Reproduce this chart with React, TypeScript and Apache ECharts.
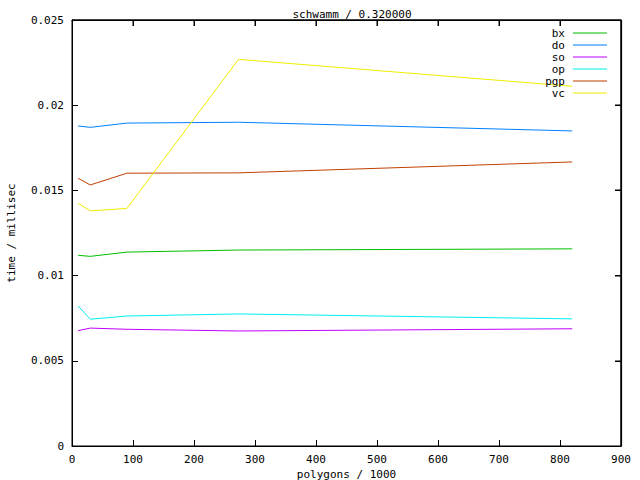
import React, { useEffect, useRef } from "react";
import * as echarts from "echarts";

const polygons = [10, 30, 90, 273, 820];
const seriesNames = ["bx", "do", "so", "op", "pgp", "vc"];
const bx = [0.01119, 0.01113, 0.01138, 0.0115, 0.01157];
const doV = [0.01878, 0.0187, 0.01895, 0.019, 0.01849];
const so = [0.00677, 0.00692, 0.00685, 0.00675, 0.00688];
const op = [0.00822, 0.00744, 0.00763, 0.00775, 0.00746];
const pgp = [0.01571, 0.01532, 0.01601, 0.01603, 0.01667];
const vc = [0.01424, 0.0138, 0.01394, 0.02269, 0.02111];
const colors = ["#00c000", "#0080ff", "#c000ff", "#00eeee", "#c04000", "#eeee00"];
const xTicks = { min: 0, max: 900, interval: 100 };
const yTicks = { min: 0, max: 0.025, interval: 0.005 };

const FONT = "DejaVu Sans Mono";
const TICK = 6;

export default function App() {
  const ref = useRef<HTMLDivElement>(null);
  useEffect(() => {
    if (!ref.current) return;
    const chart = echarts.init(ref.current, undefined, { renderer: "svg" });
    const values = [bx, doV, so, op, pgp, vc];
    const axisLine = { show: true, onZero: false, lineStyle: { color: "#000", width: 1 } };
    const axisTick = { show: true, inside: true, length: TICK, lineStyle: { color: "#000", width: 1 } };
    const lineSeries = seriesNames.map((name, i) => ({
      name,
      type: "line",
      xAxisIndex: 0,
      yAxisIndex: 0,
      symbol: "none",
      color: colors[i],
      lineStyle: { width: 1, color: colors[i] },
      data: polygons.map((x, j) => [x, values[i][j]]),
    }));
    const mirrorLine = { show: true, onZero: false, lineStyle: { color: "#000", width: 1.2 } };
    chart.setOption({
      animation: false,
      backgroundColor: "#fff",
      textStyle: { fontFamily: FONT },
      title: {
        text: "schwamm / 0.320000",
        left: 347,
        top: 4,
        textAlign: "center",
        textStyle: { fontFamily: FONT, fontSize: 11, fontWeight: "normal", color: "#000" },
      },
      legend: {
        orient: "vertical",
        right: 28,
        top: 22,
        align: "right",
        itemGap: 0,
        itemWidth: 34,
        itemHeight: 1,
        icon: "rect",
        textStyle: { fontFamily: FONT, fontSize: 11, color: "#000", lineHeight: 12, padding: [0, 3, 0, 0] },
        data: seriesNames,
      },
      grid: {
        left: 72,
        right: 19,
        top: 20,
        bottom: 34,
        show: true,
        borderColor: "#000",
        borderWidth: 1,
        backgroundColor: "rgba(0,0,0,0)",
        outerBoundsMode: "none",
      },
      xAxis: [
        {
          type: "value",
          ...xTicks,
          position: "bottom",
          name: "polygons / 1000",
          nameLocation: "middle",
          nameGap: 23,
          nameMoveOverlap: false,
          nameTextStyle: { fontFamily: FONT, fontSize: 11, color: "#000" },
          axisLabel: { color: "#000", fontFamily: FONT, fontSize: 11, margin: 8 },
          axisLine,
          axisTick,
          splitLine: { show: false },
        },
        {
          type: "value",
          ...xTicks,
          position: "top",
          axisLabel: { show: false },
          axisLine: mirrorLine,
          axisTick,
          splitLine: { show: false },
        },
      ],
      yAxis: [
        {
          type: "value",
          ...yTicks,
          position: "left",
          name: "time / millisec",
          nameLocation: "middle",
          nameGap: 55,
          nameMoveOverlap: false,
          nameRotate: 90,
          nameTextStyle: { fontFamily: FONT, fontSize: 11, color: "#000" },
          axisLabel: {
            color: "#000",
            fontFamily: FONT,
            fontSize: 11,
            margin: 8,
            formatter: (v: number) => String(parseFloat(v.toFixed(4))),
          },
          axisLine,
          axisTick,
          splitLine: { show: false },
        },
        {
          type: "value",
          ...yTicks,
          position: "right",
          axisLabel: { show: false },
          axisLine: mirrorLine,
          axisTick,
          splitLine: { show: false },
        },
      ],
      series: lineSeries,
    });

    // Mirror frame and ticks (top and right), placed through the chart's own scales.
    const finder = { xAxisIndex: 0, yAxisIndex: 0 };
    const tl = chart.convertToPixel(finder, [xTicks.min, yTicks.max]) as number[];
    const br = chart.convertToPixel(finder, [xTicks.max, yTicks.min]) as number[];
    if (tl && br && isFinite(tl[0]) && isFinite(br[1])) {
      const left = Math.round(tl[0]);
      const top = Math.round(tl[1]);
      const right = Math.round(br[0]);
      const bottom = Math.round(br[1]);
      const els: any[] = [
        { type: "rect", shape: { x: left, y: top - 0.5, width: right - left, height: 1.2 } },
        { type: "rect", shape: { x: right - 0.5, y: top, width: 1.2, height: bottom - top } },
      ];
      const nx = Math.round((xTicks.max - xTicks.min) / xTicks.interval);
      for (let i = 1; i < nx; i++) {
        const p = chart.convertToPixel(finder, [xTicks.min + i * xTicks.interval, yTicks.max]) as number[];
        els.push({ type: "rect", shape: { x: Math.round(p[0]) - 0.5, y: top, width: 1, height: TICK } });
      }
      const ny = Math.round((yTicks.max - yTicks.min) / yTicks.interval);
      for (let i = 1; i < ny; i++) {
        const p = chart.convertToPixel(finder, [xTicks.max, yTicks.min + i * yTicks.interval]) as number[];
        els.push({ type: "rect", shape: { x: right - TICK, y: Math.round(p[1]) - 0.5, width: TICK, height: 1 } });
      }
      chart.setOption({
        graphic: els.map((e) => ({ ...e, silent: true, z: 50, style: { fill: "#000" } })),
      });
    }
    return () => chart.dispose();
  }, []);
  return (
    <div
      ref={ref}
      style={{ position: "fixed", left: 0, top: 0, width: 640, height: 480, background: "#fff" }}
    />
  );
}
